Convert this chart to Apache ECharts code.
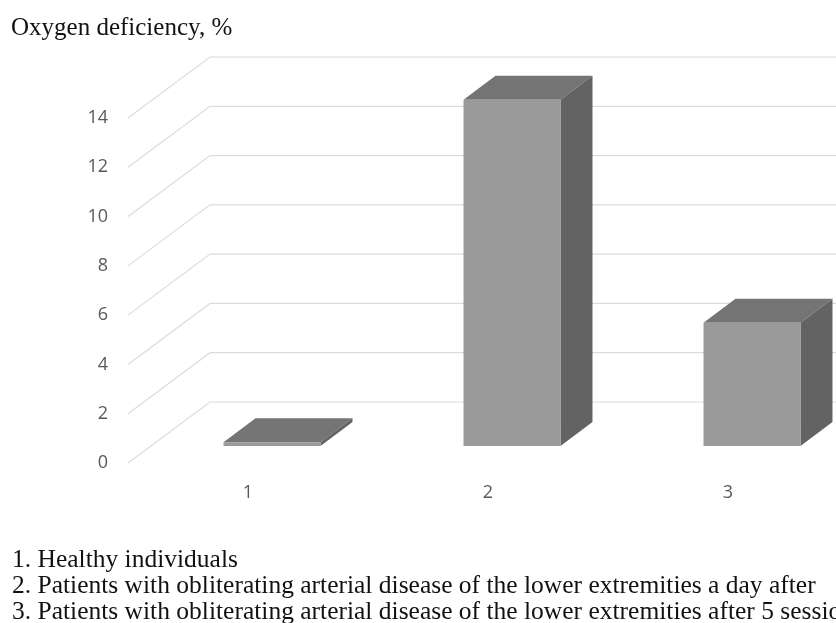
<!DOCTYPE html>
<html>
<head>
<meta charset="utf-8">
<script src="https://cdn.jsdelivr.net/npm/echarts@6/dist/echarts.min.js"></script>
<style>
  html, body { margin: 0; padding: 0; background: #fff; }
  #chart { width: 836px; height: 623px; }
</style>
</head>
<body>
<div id="chart"></div>
<script>
// data
const categories = ['1', '2', '3']
const deficiency = [0.15, 14.05, 5.0]
const yTicks = [0, 2, 4, 6, 8, 10, 12, 14]
const notes = [
  '1. Healthy individuals',
  '2. Patients with obliterating arterial disease of the lower extremities a day after',
  '3. Patients with obliterating arterial disease of the lower extremities after 5 sessions'
]

// fake 3d look (excel style)
const wallDx = 82
const wallDy = -61
const barShiftX = 24
const barShiftY = -17
const depthDx = 32
const depthDy = -24

const myChart = echarts.init(document.getElementById('chart'))

const option = {
  animation: false,
  title: [{
    text: 'Oxygen deficiency, %',
    left: 11,
    top: 16,
    padding: 0,
    textStyle: { fontFamily: 'Liberation Serif', fontSize: 25, fontWeight: 'normal', color: '#111' }
  }, {
    text: notes.join('\n'),
    left: 12,
    top: 547,
    padding: 0,
    textStyle: { fontFamily: 'Liberation Serif', fontSize: 25.5, fontWeight: 'normal', color: '#111', lineHeight: 26 }
  }],
  grid: {
    left: 128,
    width: 720,
    top: 118,
    bottom: 160,
    outerBoundsMode: 'none'
  },
  xAxis: {
    type: 'category',
    data: categories,
    axisLine: { show: false },
    axisTick: { show: false },
    axisLabel: { margin: 21, fontFamily: 'Open Sans', fontSize: 18, color: '#595959' },
    splitLine: { show: false }
  },
  yAxis: {
    type: 'value',
    min: 0,
    max: 14,
    interval: 2,
    axisLine: { show: false },
    axisTick: { show: false },
    axisLabel: { margin: 20, fontFamily: 'Open Sans', fontSize: 18, color: '#595959' },
    splitLine: { show: false }
  },
  series: [{
    // floor + back wall gridlines
    type: 'custom',
    clip: false,
    silent: true,
    z: 1,
    data: yTicks.map(t => [0, t]),
    renderItem: (params, api) => {
      const cs = params.coordSys
      const y = api.coord([0, api.value(1)])[1]
      return {
        type: 'polyline',
        shape: {
          points: [
            [cs.x, y],
            [cs.x + wallDx, y + wallDy],
            [cs.x + cs.width + 40, y + wallDy]
          ]
        },
        style: { stroke: '#dcdcdc', lineWidth: 1.2, fill: null }
      }
    }
  }, {
    type: 'custom',
    clip: false,
    z: 2,
    data: deficiency.map((v, i) => [i, v]),
    renderItem: (params, api) => {
      const base = api.coord([api.value(0), 0])
      const top = api.coord([api.value(0), api.value(1)])
      const bw = api.size([1, 0])[0] * 0.404
      const x0 = base[0] + barShiftX - bw / 2
      const x1 = x0 + bw
      const yb = base[1] + barShiftY
      const yt = top[1] + barShiftY
      return {
        type: 'group',
        children: [{
          type: 'polygon',
          shape: { points: [[x0, yt], [x1, yt], [x1 + depthDx, yt + depthDy], [x0 + depthDx, yt + depthDy]] },
          style: { fill: '#747474' }
        }, {
          type: 'polygon',
          shape: { points: [[x1, yt], [x1 + depthDx, yt + depthDy], [x1 + depthDx, yb + depthDy], [x1, yb]] },
          style: { fill: '#636363' }
        }, {
          type: 'rect',
          shape: { x: x0, y: yt, width: bw, height: yb - yt },
          style: { fill: '#9a9a9a' }
        }]
      }
    }
  }]
}

myChart.setOption(option)
</script>
</body>
</html>
